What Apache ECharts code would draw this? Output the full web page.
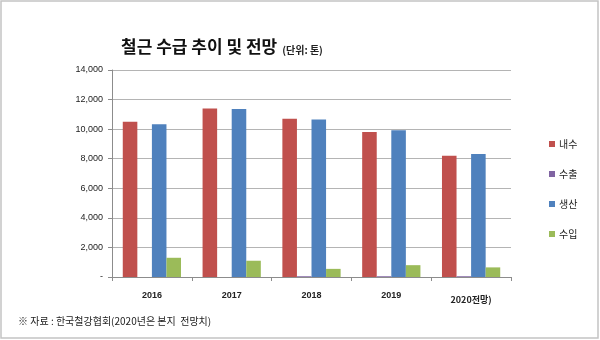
<!DOCTYPE html>
<html>
<head>
<meta charset="utf-8">
<script src="https://cdn.jsdelivr.net/npm/echarts@6/dist/echarts.min.js"></script>
<style>html,body{margin:0;padding:0;background:#fff}#c{width:600px;height:340px}</style>
</head>
<body>
<div id="c"></div>
<script>
var categories = ['2016', '2017', '2018', '2019', '2020전망)'];
var seriesNames = ['내수', '수출', '생산', '수입'];
var domestic = [10500, 11400, 10700, 9800, 8200];
var exportVals = [0, 0, 50, 50, 50];
var production = [10330, 11360, 10650, 9930, 8320];
var importVals = [1300, 1100, 550, 800, 650];
var yTicks = [0, 2000, 4000, 6000, 8000, 10000, 12000, 14000];
var colors = ['#C0504D', '#8064A2', '#4F81BD', '#9BBB59'];

var CJK = '"Noto Sans CJK KR", "Liberation Sans", sans-serif';
var NUM = '"Liberation Sans", "Noto Sans CJK KR", sans-serif';

var chart = echarts.init(document.getElementById('c'), null, {renderer: 'canvas'});
var values = [domestic, exportVals, production, importVals];
var series = seriesNames.map(function (n, i) {
  return {
    name: n, type: 'bar', data: values[i],
    itemStyle: {color: colors[i]},
    barGap: '0%', barCategoryGap: '27%'
  };
});

chart.setOption({
  animation: false,
  color: colors,
  title: {
    text: '{a|철근 수급 추이 및 전망} {b|(단위: 톤)}',
    left: 116, top: 33,
    textStyle: {
      rich: {
        a: {fontFamily: CJK, fontSize: 17, fontWeight: 'bold', color: '#111'},
        b: {fontFamily: CJK, fontSize: 10, color: '#222', padding: [6, 0, 0, 0]}
      }
    }
  },
  legend: {
    orient: 'vertical', left: 544, top: 133,
    itemWidth: 6, itemHeight: 6, itemGap: 18, icon: 'rect',
    textStyle: {fontFamily: CJK, fontSize: 10, color: '#222', lineHeight: 12, padding: [0, 0, 0, -1]},
    data: seriesNames
  },
  grid: {left: 112, right: 89, top: 70, bottom: 63, containLabel: false},
  xAxis: {
    type: 'category', data: categories,
    axisLine: {lineStyle: {color: '#8c8c8c'}},
    axisTick: {show: true, length: 4, lineStyle: {color: '#8c8c8c'}},
    axisLabel: {
      margin: 14, interval: 0, hideOverlap: false,
      formatter: function (v, i) { return i === categories.length - 1 ? '{l|' + v + '}' : '{n|' + v + '}'; },
      rich: {
        n: {fontFamily: NUM, fontSize: 9, fontWeight: 'bold', color: '#222'},
        l: {fontFamily: CJK, fontSize: 9, fontWeight: 'bold', color: '#222', padding: [4, 0, 0, 0]}
      }
    }
  },
  yAxis: {
    type: 'value', min: yTicks[0], max: yTicks[yTicks.length - 1], interval: 2000,
    axisLine: {show: true, lineStyle: {color: '#8c8c8c'}},
    axisTick: {show: true, length: 4, lineStyle: {color: '#8c8c8c'}},
    splitLine: {lineStyle: {color: '#b4b4b4'}},
    axisLabel: {
      margin: 9, fontFamily: NUM, fontSize: 9, color: '#222',
      formatter: function (v) { return v === 0 ? '-' : v.toLocaleString('en-US'); }
    }
  },
  graphic: [
    {type: 'rect', shape: {x: 1, y: 1, width: 597, height: 337}, style: {fill: 'none', stroke: '#c4c4c4', lineWidth: 1.5}, silent: true},
    {type: 'text', left: 18, top: 316, style: {text: '※ 자료 : 한국철강협회(2020년은 본지  전망치)', fontFamily: CJK, fontSize: 10, fill: '#222'}}
  ],
  series: series
});
</script>
</body>
</html>
